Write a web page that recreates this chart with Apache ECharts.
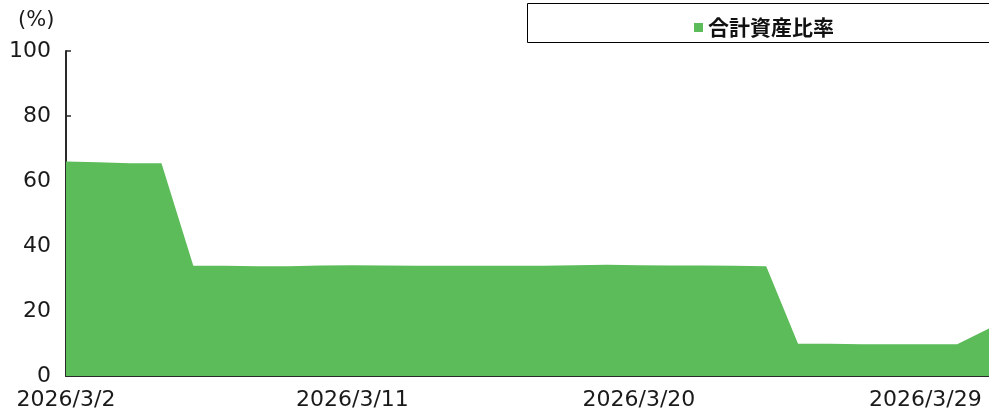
<!DOCTYPE html>
<html>
<head>
<meta charset="utf-8">
<script src="https://cdn.jsdelivr.net/npm/echarts@6/dist/echarts.min.js"></script>
<style>
html,body{margin:0;padding:0;background:#fff;}
#chart{width:989px;height:414px;}
</style>
</head>
<body>
<div id="chart"></div>
<script>
const categories = [
  "2026/3/2","2026/3/3","2026/3/4","2026/3/5","2026/3/6","2026/3/7","2026/3/8","2026/3/9","2026/3/10",
  "2026/3/11","2026/3/12","2026/3/13","2026/3/14","2026/3/15","2026/3/16","2026/3/17","2026/3/18","2026/3/19",
  "2026/3/20","2026/3/21","2026/3/22","2026/3/23","2026/3/24","2026/3/25","2026/3/26","2026/3/27","2026/3/28",
  "2026/3/29","2026/3/30","2026/3/31"
];
const totalAssetRatio = [
  66.0, 65.8, 65.5, 65.5, 33.9, 33.9, 33.8, 33.8, 34.0,
  34.1, 34.0, 33.9, 33.9, 33.9, 33.9, 33.9, 34.1, 34.2,
  34.1, 34.0, 34.0, 33.9, 33.8, 9.9, 9.9, 9.8, 9.8,
  9.8, 9.8, 14.6
];
const seriesName = "合計資産比率";
const yTicks = { min: 0, max: 100, interval: 20 };
const unitLabel = "(%)";

const chart = echarts.init(document.getElementById('chart'), null, {renderer: 'canvas'});
const green = '#5CBC59';
const axisColor = '#2a2a2a';
const textColor = '#1a1a1a';
const font = 'DejaVu Sans';

chart.setOption({
  animation: false,
  backgroundColor: '#ffffff',
  grid: { left: 66, top: 51, bottom: 38, right: -4, containLabel: false },
  graphic: [
    { type: 'rect', shape: { x: 527.5, y: 3.5, width: 470, height: 39 },
      style: { fill: 'none', stroke: '#000', lineWidth: 1 }, z: 0 },
    { type: 'text', left: 18, top: 10,
      style: { text: unitLabel, fontSize: 21, fontFamily: font, fill: textColor } }
  ],
  legend: {
    left: 689, top: 12,
    itemWidth: 9, itemHeight: 9, itemGap: 10,
    icon: 'rect',
    textStyle: { fontSize: 21, fontWeight: 'bold', fontFamily: '"Noto Sans CJK JP", sans-serif', color: '#111', padding: [0,0,0,0] },
    data: [seriesName]
  },
  xAxis: {
    type: 'category',
    data: categories,
    boundaryGap: false,
    axisLine: { lineStyle: { color: axisColor, width: 2 } },
    axisTick: { inside: true, length: 5, interval: 8, lineStyle: { color: axisColor, width: 1.5 } },
    axisLabel: { interval: 8, margin: 13, fontSize: 22, fontFamily: font, color: textColor },
    splitLine: { show: false }
  },
  yAxis: {
    type: 'value',
    min: yTicks.min, max: yTicks.max, interval: yTicks.interval,
    axisLine: { show: true, lineStyle: { color: axisColor, width: 2 } },
    axisTick: { show: true, inside: true, length: 5, lineStyle: { color: axisColor, width: 1.5 } },
    axisLabel: { margin: 15, fontSize: 22, fontFamily: font, color: textColor },
    splitLine: { show: false }
  },
  series: [{
    name: seriesName,
    type: 'line',
    data: totalAssetRatio,
    symbol: 'none',
    lineStyle: { width: 0, color: green },
    itemStyle: { color: green },
    areaStyle: { color: green, opacity: 1 },
    clip: true
  }]
});
</script>
</body>
</html>
